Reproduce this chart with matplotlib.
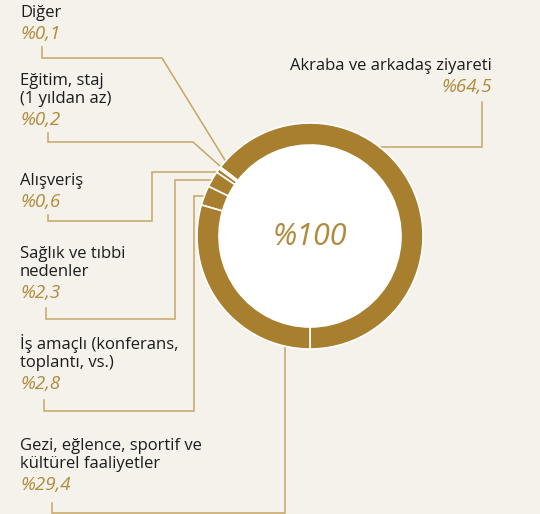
import numpy as np
import matplotlib.pyplot as plt
from matplotlib.patches import Circle

plt.rcParams['font.family'] = ['Open Sans', 'DejaVu Sans']

# travel purpose shares (%)
categories = ['Akraba ve arkadaş ziyareti', 'Diğer', 'Eğitim, staj\n(1 yıldan az)',
              'Alışveriş', 'Sağlık ve tıbbi\nnedenler', 'İş amaçlı (konferans,\ntoplantı, vs.)',
              'Gezi, eğlence, sportif ve\nkültürel faaliyetler']
values = [64.5, 0.1, 0.2, 0.6, 2.3, 2.8, 29.4]
value_labels = ['%64,5', '%0,1', '%0,2', '%0,6', '%2,3', '%2,8', '%29,4']
total_label = '%100'

W, H = 540, 514
BG = '#f5f2eb'
GOLD = '#a77f2e'
LINE = '#c6a665'
VAL = '#b08a3c'

fig = plt.figure(figsize=(W / 100, H / 100), dpi=100, facecolor=BG)
ax = fig.add_axes([0, 0, 1, 1])
ax.set_facecolor(BG)

cx, cy = 310, 236
R, ring_w = 113, 22

# y axis points down, so clockwise in data = counter-clockwise on screen
wedges, _ = ax.pie(values, center=(cx, cy), radius=R, startangle=90, counterclock=False,
                   colors=[GOLD] * len(values),
                   wedgeprops=dict(width=ring_w, edgecolor='white', linewidth=1.2, zorder=3))
ax.add_patch(Circle((cx, cy), R - ring_w, facecolor='white', edgecolor='none', zorder=2))
ax.text(cx, cy + 1, total_label, ha='center', va='center', fontsize=22, color=VAL,
        style='italic', zorder=4)


def ring_pt(i, r):
    t = np.deg2rad((wedges[i].theta1 + wedges[i].theta2) / 2)
    return cx + r * np.cos(t), cy + r * np.sin(t)


# leader lines; each ends inside the ring where it is hidden by the wedges / hole
paths = {}
paths[0] = [(482, 102), (482, 147), (cx, 147)]
paths[1] = [(42, 47), (42, 58), (162, 58), ring_pt(1, R - ring_w)]
paths[2] = [(48, 133), (48, 142), (193, 142), ring_pt(2, R - ring_w)]
for i, (x0, y0, xe) in zip([3, 4, 5], [(48, 215, 152), (46, 308, 175), (44, 400, 194)]):
    ay = ring_pt(i, R - 2)[1]
    yb = {3: 221, 4: 319, 5: 411}[i]
    paths[i] = [(x0, y0), (x0, yb), (xe, yb), (xe, ay), (cx, ay)]
paths[6] = [(52, 503), (52, 513), (285, 513), (285, cy)]
for p in paths.values():
    xs, ys = zip(*p)
    ax.plot(xs, ys, color=LINE, lw=1.1, zorder=1, solid_joinstyle='miter')

# label blocks: (x, baseline of first line, alignment)
label_pos = [(492, 70, 'right'), (20, 17, 'left'), (20, 85, 'left'), (20, 185, 'left'),
             (20, 258, 'left'), (20, 349, 'left'), (20, 450, 'left')]
for name, val, (x, y, ha) in zip(categories, value_labels, label_pos):
    lines = name.split('\n')
    for k, ln in enumerate(lines):
        ax.text(x, y + 18 * k, ln, ha=ha, va='baseline', fontsize=12, color='#1c1c1c')
    ax.text(x, y + 18 * (len(lines) - 1) + 22, val, ha=ha, va='baseline', fontsize=13.5,
            color=VAL, style='italic')

ax.set_xlim(0, W)
ax.set_ylim(H, 0)
ax.set_aspect('equal')
ax.axis('off')
fig.savefig('out.png', dpi=100, facecolor=BG)
